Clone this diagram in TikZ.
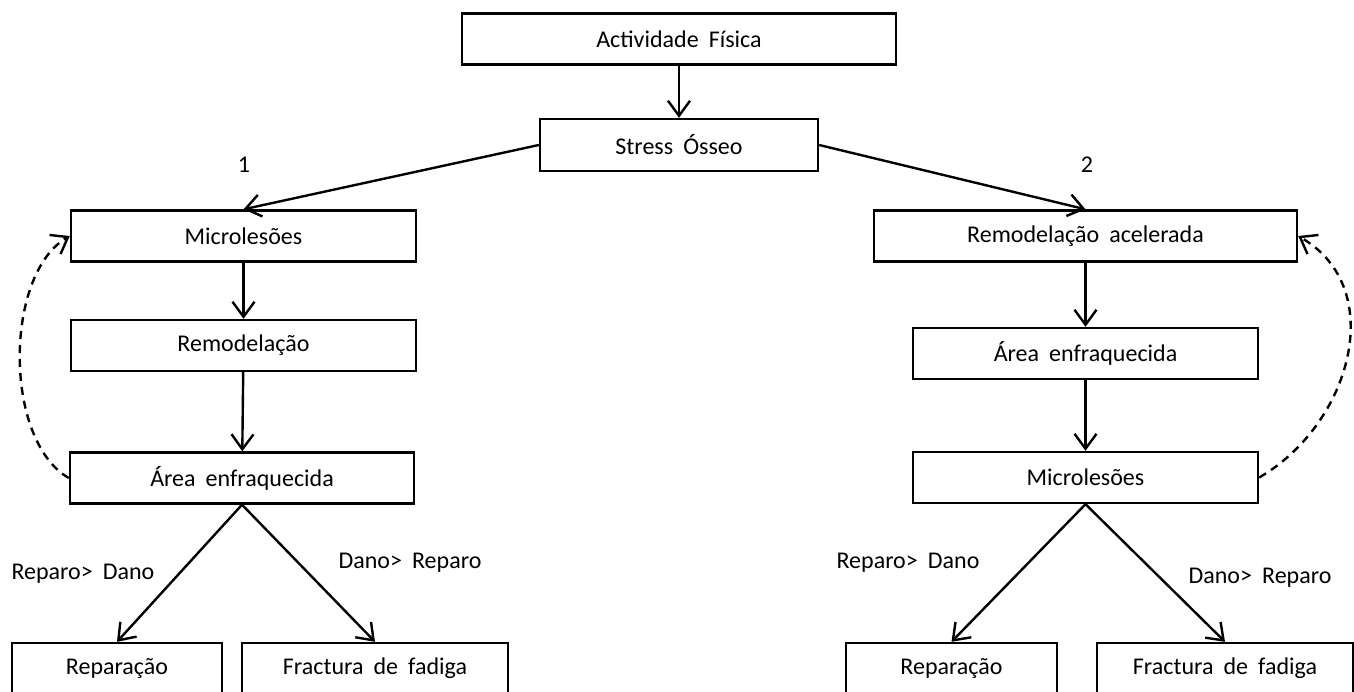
\documentclass[tikz,border=0pt]{standalone}
\usepackage{fontspec}
\setmainfont{Carlito}
\usepackage{tikz}
\usetikzlibrary{arrows.meta,shapes}
\newcommand{\letra}{\fontsize{12}{14}\selectfont\spaceskip=0.42em\relax}
\tikzstyle{caixa} = [draw, rectangle, line width=1.2pt, minimum height=25.5pt, inner sep=2pt]
\tikzstyle{rotulo} = [inner sep=0pt]

\begin{document}
\begin{tikzpicture}[x=0.5pt, y=-0.5pt, line width=1.2pt,
    >={Straight Barb[length=7.5pt,width=11pt]}, font=\letra]

  % Fix the frame first, the bottom boxes run off the page.
    \useasboundingbox (0,0) rectangle (1354,691);
    \clip (0,0) rectangle (1354,691);

    \node [caixa, minimum width=217pt] (actividade) at (679,39) {Actividade Física};
    \node [caixa, minimum width=139pt, minimum height=26pt] (stress) at (679,145) {Stress Ósseo};

    \node [caixa, minimum width=172.5pt] (micro1) at (243.5,236) {Microlesões};
    \node [caixa, minimum width=172.5pt] (remod1) at (243.5,345.5) {Remodelação};
    \node [caixa, minimum width=172pt] (area1) at (242,478) {Área enfraquecida};
    \node [caixa, minimum width=105pt] (repar1) at (117,668.5) {Reparação};
    \node [caixa, minimum width=133pt] (fract1) at (375,668.5) {Fractura de fadiga};

    \node [caixa, minimum width=211.5pt] (acel2) at (1085.5,236) {Remodelação acelerada};
    \node [caixa, minimum width=172.5pt] (area2) at (1085.5,353.5) {Área enfraquecida};
    \node [caixa, minimum width=172.5pt] (micro2) at (1085.5,477.5) {Microlesões};
    \node [caixa, minimum width=105.5pt] (repar2) at (951.5,668.5) {Reparação};
    \node [caixa, minimum width=128pt] (fract2) at (1225,668.5) {Fractura de fadiga};

    \node [rotulo] (um) at (244,165) {1};
    \node [rotulo] (dois) at (1087,165) {2};
    \node [rotulo] (rd1) at (83,574) {Reparo> Dano};
    \node [rotulo] (dr1) at (410,563) {Dano> Reparo};
    \node [rotulo] (rd2) at (908,563) {Reparo> Dano};
    \node [rotulo] (dr2) at (1260,578) {Dano> Reparo};

% Connecting the boxes.
    \draw [->] (actividade) -- (stress);
    \draw [->] (stress.west) -- (micro1.north);
    \draw [->] (stress.east) -- (acel2.north);
    \draw [->] (micro1) -- (remod1);
    \draw [->] (remod1) -- (area1);
    \draw [->] (acel2) -- (area2);
    \draw [->] (area2) -- (micro2);
    \draw [->] (area1.south) -- (repar1.north);
    \draw [->] (area1.south) -- (fract1.north);
    \draw [->] (micro2.south) -- (repar2.north);
    \draw [->] (micro2.south) -- (fract2.north);
    \draw [->, dash pattern=on 4pt off 3pt] (area1.west) to[out=150, in=210, looseness=0.8] (micro1.west);
    \draw [->, dash pattern=on 4pt off 3pt] (micro2.east) to[out=30, in=-30, looseness=1.1] (acel2.east);

  \end{tikzpicture}
\end{document}
